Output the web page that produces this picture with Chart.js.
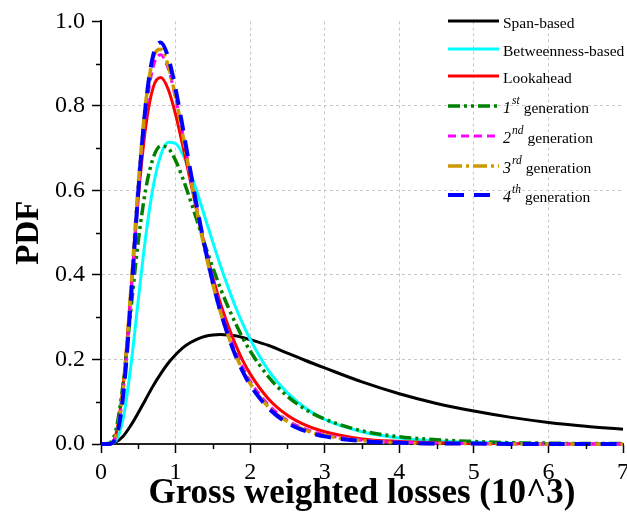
<!DOCTYPE html>
<html>
<head>
<meta charset="utf-8">
<script src="https://cdn.jsdelivr.net/npm/chart.js@4"></script>
<style>
  body { margin: 0; background: #fff; }
  #wrap { width: 627px; height: 523px; overflow: hidden; }
</style>
</head>
<body>
<div id="wrap"><canvas id="pdf" width="634" height="523"></canvas></div>
<script>
// gross weighted losses (10^3) sample points
var xs = [0, 0.1, 0.2, 0.3, 0.4, 0.5, 0.6, 0.7, 0.8, 0.9,
          1.0, 1.1, 1.2, 1.3, 1.4, 1.5, 1.6, 1.7, 1.8, 1.9, 2.0,
          2.25, 2.5, 2.75, 3.0, 3.5, 4.0, 4.5, 5.0, 5.5, 6.0, 6.5, 7.0];

var spanBased = [0, 0, 0.005, 0.019, 0.044, 0.074, 0.106, 0.138, 0.166, 0.191,
                 0.211, 0.228, 0.240, 0.249, 0.255, 0.258, 0.259, 0.258, 0.256, 0.252, 0.247,
                 0.233, 0.215, 0.197, 0.180, 0.147, 0.119, 0.096, 0.078, 0.063, 0.051, 0.042, 0.035];
var betweenness = [0, 0, 0.008, 0.063, 0.184, 0.341, 0.492, 0.609, 0.683, 0.714,
                   0.711, 0.684, 0.641, 0.589, 0.533, 0.477, 0.423, 0.373, 0.326, 0.285, 0.248,
                   0.173, 0.121, 0.084, 0.058, 0.029, 0.014, 0.007, 0.004, 0.002, 0.001, 0.001, 0];
var lookahead = [0, 0, 0.023, 0.144, 0.358, 0.582, 0.751, 0.844, 0.867, 0.840,
                 0.780, 0.703, 0.621, 0.539, 0.463, 0.394, 0.334, 0.282, 0.237, 0.198, 0.166,
                 0.106, 0.068, 0.044, 0.029, 0.012, 0.006, 0.003, 0.001, 0.001, 0, 0, 0];
var gen1 = [0, 0.001, 0.033, 0.148, 0.317, 0.480, 0.603, 0.677, 0.705, 0.700,
            0.671, 0.627, 0.576, 0.522, 0.468, 0.417, 0.369, 0.326, 0.287, 0.251, 0.220,
            0.158, 0.113, 0.081, 0.059, 0.031, 0.017, 0.010, 0.006, 0.003, 0.002, 0.001, 0.001];
var gen2 = [0, 0, 0.017, 0.128, 0.347, 0.593, 0.785, 0.893, 0.921, 0.889,
            0.819, 0.731, 0.637, 0.546, 0.462, 0.387, 0.322, 0.267, 0.221, 0.182, 0.149,
            0.092, 0.056, 0.035, 0.022, 0.009, 0.004, 0.002, 0.001, 0, 0, 0, 0];
var gen3 = [0, 0, 0.019, 0.136, 0.364, 0.616, 0.809, 0.913, 0.934, 0.896,
            0.821, 0.728, 0.631, 0.538, 0.453, 0.378, 0.313, 0.259, 0.213, 0.175, 0.143,
            0.087, 0.053, 0.032, 0.020, 0.008, 0.003, 0.001, 0.001, 0, 0, 0, 0];
var gen4 = [0, 0, 0.015, 0.119, 0.340, 0.598, 0.803, 0.920, 0.950, 0.915,
            0.840, 0.745, 0.645, 0.548, 0.460, 0.382, 0.315, 0.259, 0.211, 0.172, 0.140,
            0.084, 0.050, 0.030, 0.018, 0.007, 0.003, 0.001, 0.001, 0, 0, 0, 0];

var seriesNames = ["Span-based", "Betweenness-based", "Lookahead",
                   "1st generation", "2nd generation", "3rd generation", "4th generation"];
var seriesValues = [spanBased, betweenness, lookahead, gen1, gen2, gen3, gen4];
var seriesColors = ["#000000", "#00FFFF", "#FF0000", "#008000", "#FF00FF", "#CC9900", "#0000FF"];
var seriesDash = [[], [], [], [12, 4, 3, 4, 3, 4], [8, 5], [14, 4, 3, 4], [16, 10]];
var seriesWidth = [3, 3, 3, 3.5, 3, 3.5, 4];

var serif = "'Liberation Serif', 'Times New Roman', serif";

function points(vals) {
  return xs.map(function (x, i) { return {x: x, y: vals[i]}; });
}

var datasets = seriesNames.map(function (name, i) {
  return {
    label: name,
    data: points(seriesValues[i]),
    borderColor: seriesColors[i],
    borderWidth: seriesWidth[i],
    borderDash: seriesDash[i],
    pointRadius: 0,
    fill: false,
    cubicInterpolationMode: 'monotone',
    clip: 6,
    order: seriesNames.length - 1 - i
  };
});

// legend drawn like the Origin one (with superscripts)
var legendRows = [21, 49, 76, 106, 136, 166, 195];
const originLegend = {
  id: 'originLegend',
  afterDraw(chart) {
    const ctx = chart.ctx;
    chart.data.datasets.forEach((ds, i) => {
      const y = legendRows[i];
      ctx.save();
      ctx.strokeStyle = ds.borderColor;
      ctx.lineWidth = ds.borderWidth;
      ctx.setLineDash(ds.borderDash);
      ctx.beginPath();
      ctx.moveTo(448, y);
      ctx.lineTo(499, y);
      ctx.stroke();
      ctx.setLineDash([]);
      ctx.fillStyle = '#000';
      ctx.textBaseline = 'middle';
      let x = 503;
      const m = ds.label.match(/^(\d)(st|nd|rd|th) (.*)$/);
      if (m) {
        ctx.font = 'italic 16px ' + serif;
        ctx.fillText(m[1], x, y + 3);
        x += ctx.measureText(m[1]).width + 1;
        ctx.font = 'italic 11.5px ' + serif;
        ctx.fillText(m[2], x, y - 5);
        x += ctx.measureText(m[2]).width + 4;
        ctx.font = '15.5px ' + serif;
        ctx.fillText(m[3], x, y + 3);
      } else {
        ctx.font = '15.5px ' + serif;
        ctx.fillText(ds.label, x, y + 3);
      }
      ctx.restore();
    });
  }
};

// minor ticks
const minorTicks = {
  id: 'minorTicks',
  afterDraw(chart) {
    const ctx = chart.ctx, xs_ = chart.scales.x, ys_ = chart.scales.y;
    const area = chart.chartArea;
    ctx.save();
    ctx.strokeStyle = '#000';
    ctx.lineWidth = 1.5;
    ctx.beginPath();
    for (let k = 1; k < 10; k += 2) {
      const py = Math.round(ys_.getPixelForValue(k / 10)) + 0.5;
      ctx.moveTo(area.left - 5, py);
      ctx.lineTo(area.left, py);
    }
    for (let k = 1; k < 14; k += 2) {
      const px = Math.round(xs_.getPixelForValue(k / 2)) + 0.5;
      ctx.moveTo(px, area.bottom);
      ctx.lineTo(px, area.bottom + 5);
    }
    ctx.stroke();
    ctx.restore();
  }
};

new Chart(document.getElementById('pdf'), {
  type: 'line',
  data: { datasets: datasets },
  plugins: [originLegend, minorTicks],
  options: {
    responsive: false,
    animation: false,
    devicePixelRatio: 1,
    layout: { padding: { left: 0, top: 21, right: 10, bottom: 0 } },
    plugins: { legend: { display: false }, tooltip: { enabled: false } },
    scales: {
      x: {
        type: 'linear',
        min: 0, max: 7,
        afterFit: function (s) { s.height = 79; },
        ticks: {
          stepSize: 1,
          padding: 5,
          color: '#000',
          font: { family: serif, size: 24 },
          maxRotation: 0
        },
        grid: {
          color: function (c) { return (c.tick && (c.tick.value === 0 || c.tick.value === 7)) ? 'rgba(0,0,0,0)' : '#c8c8c8'; },
          lineWidth: 1,
          tickLength: 9,
          tickColor: '#000',
          tickWidth: 1.5
        },
        border: { display: true, color: '#222', width: 2, dash: [3, 3] },
        title: {
          display: true,
          text: 'Gross weighted losses (10^3)',
          color: '#000',
          font: { family: serif, size: 35, weight: 'bold' },
          padding: { top: 0, bottom: 8 }
        }
      },
      y: {
        min: 0, max: 1,
        afterFit: function (s) { s.width = 101; },
        ticks: {
          stepSize: 0.2,
          padding: 7,
          color: '#000',
          font: { family: serif, size: 24 },
          callback: function (v) { return v.toFixed(1); }
        },
        grid: {
          color: function (c) { return (c.tick && (c.tick.value === 0 || c.tick.value === 1)) ? 'rgba(0,0,0,0)' : '#c8c8c8'; },
          lineWidth: 1,
          tickLength: 9,
          tickColor: '#000',
          tickWidth: 1.5
        },
        border: { display: true, color: '#000', width: 2, dash: [3, 3] },
        title: {
          display: true,
          text: 'PDF',
          color: '#000',
          font: { family: serif, size: 33, weight: 'bold' },
          padding: { top: 10, bottom: 0 }
        }
      }
    }
  }
});
</script>
</body>
</html>
